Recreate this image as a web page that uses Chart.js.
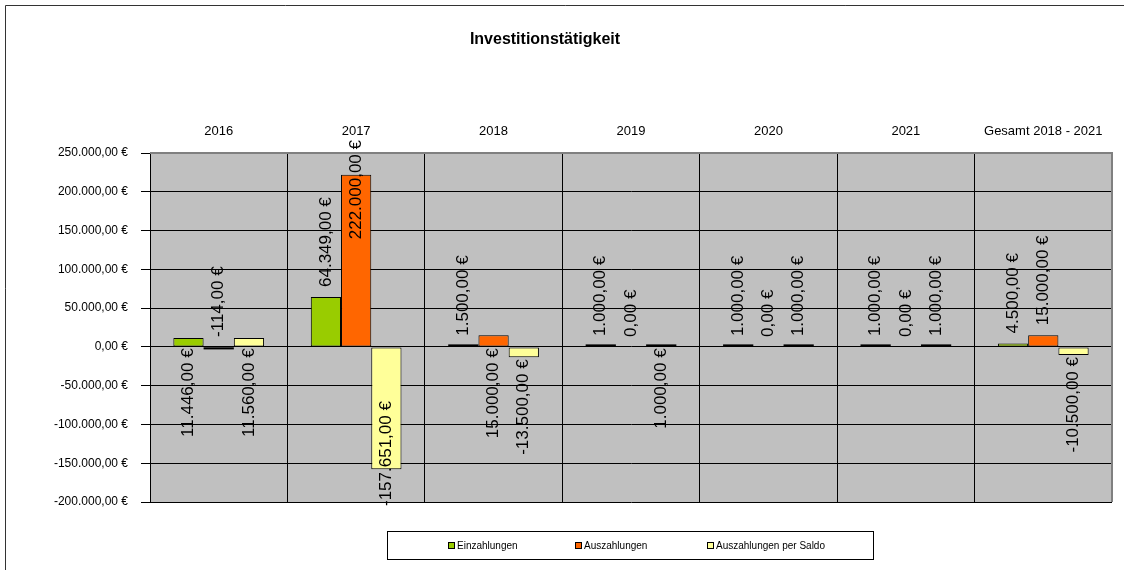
<!DOCTYPE html>
<html>
<head>
<meta charset="utf-8">
<script src="https://cdn.jsdelivr.net/npm/chart.js@4/dist/chart.umd.min.js"></script>
<style>
  body { margin: 0; background: #fff; }
  #wrap { width: 1124px; height: 570px; }
</style>
</head>
<body>
<div id="wrap"><canvas id="invest" width="1124" height="570"></canvas></div>
<script>
var categories = ['2016', '2017', '2018', '2019', '2020', '2021', 'Gesamt 2018 - 2021'];
var einzahlungen = [11446, 64349, 1500, 1000, 1000, 1000, 4500];
var auszahlungen = [-114, 222000, 15000, 0, 0, 0, 15000];
var saldo = [11560, -157651, -13500, 1000, 1000, 1000, -10500];
var seriesNames = ['Einzahlungen', 'Auszahlungen', 'Auszahlungen per Saldo'];
var yMin = -200000, yMax = 250000, yStep = 50000;

// labels that Excel put on the other side of the zero line: [dataset, index]
var flippedLabels = [[0, 0], [1, 0], [2, 0], [1, 2], [2, 3]];

var FONT = '"Liberation Sans", Arial, sans-serif';
Chart.defaults.font.family = FONT;
Chart.defaults.color = '#000';

function euro(v) {
    var parts = Math.abs(v).toFixed(2).split('.');
    var whole = parts[0].replace(/\B(?=(\d{3})+(?!\d))/g, '.');
    return (v < 0 ? '-' : '') + whole + ',' + parts[1] + ' €';
}

function isFlipped(di, i) {
    return flippedLabels.some(function (p) { return p[0] === di && p[1] === i; });
}

var excelLook = {
    id: 'excelLook',
    beforeDraw: function (chart) {
        var a = chart.chartArea, ctx = chart.ctx;
        ctx.save();
        ctx.fillStyle = '#C0C0C0';
        ctx.fillRect(a.left, a.top, a.right - a.left, a.bottom - a.top);
        ctx.restore();
    },
    beforeDatasetsDraw: function (chart) {
        var a = chart.chartArea, ctx = chart.ctx;
        ctx.save();
        ctx.strokeStyle = '#808080';
        ctx.lineWidth = 2;
        ctx.beginPath();
        ctx.moveTo(a.left, a.top);
        ctx.lineTo(a.right, a.top);
        ctx.lineTo(a.right, a.bottom);
        ctx.stroke();
        ctx.restore();
    },
    afterDatasetsDraw: function (chart) {
        var ctx = chart.ctx;
        ctx.save();
        // very small non-zero bars show up as a dark outline in Excel
        chart.data.datasets.forEach(function (ds, di) {
            chart.getDatasetMeta(di).data.forEach(function (bar, i) {
                var v = ds.data[i];
                if (v !== 0 && Math.abs(bar.y - bar.base) < 2) {
                    ctx.fillStyle = '#000';
                    var y0 = v > 0 ? bar.base - 2 : bar.base;
                    ctx.fillRect(bar.x - bar.width / 2, y0, bar.width, 2);
                }
            });
        });

        ctx.font = '17px ' + FONT;
        ctx.fillStyle = '#000';
        ctx.textBaseline = 'middle';
        chart.data.datasets.forEach(function (ds, di) {
            chart.getDatasetMeta(di).data.forEach(function (bar, i) {
                var v = ds.data[i];
                var up = v >= 0;
                if (isFlipped(di, i)) up = !up;
                var text = euro(v);
                var w = ctx.measureText(text).width;
                var top = Math.min(bar.y, bar.base), bottom = Math.max(bar.y, bar.base);
                var anchor;
                if (up) {
                    anchor = top - 10;
                    if (anchor - w < 140) anchor = 140 + w;
                } else {
                    anchor = bottom + 2;
                    if (anchor + w > 506) anchor = 506 - w;
                }
                ctx.save();
                ctx.translate(bar.x, anchor);
                ctx.rotate(-Math.PI / 2);
                ctx.textAlign = up ? 'left' : 'right';
                ctx.fillText(text, 0, 0);
                ctx.restore();
            });
        });
        ctx.restore();
    },
    afterDraw: function (chart) {
        var ctx = chart.ctx;
        ctx.save();
        // outer frame
        ctx.strokeStyle = '#333';
        ctx.lineWidth = 1;
        ctx.beginPath();
        ctx.moveTo(5.5, 600);
        ctx.lineTo(5.5, 5.5);
        ctx.lineTo(1130, 5.5);
        ctx.stroke();

        // title
        ctx.fillStyle = '#000';
        ctx.font = 'bold 16px ' + FONT;
        ctx.textAlign = 'center';
        ctx.textBaseline = 'middle';
        ctx.fillText('Investitionstätigkeit', 545, 40);

        // legend box
        ctx.strokeStyle = '#000';
        ctx.strokeRect(387.5, 531.5, 486, 28);
        ctx.font = '10px ' + FONT;
        ctx.textAlign = 'left';
        var starts = [448, 575, 707];
        chart.data.datasets.forEach(function (ds, di) {
            var x = starts[di];
            ctx.fillStyle = ds.backgroundColor;
            ctx.fillRect(x, 542, 7, 7);
            ctx.strokeRect(x + 0.5, 542.5, 6, 6);
            ctx.fillStyle = '#000';
            ctx.fillText(ds.label, x + 9, 546);
        });
        ctx.restore();
    }
};

new Chart(document.getElementById('invest'), {
    type: 'bar',
    data: {
        labels: categories,
        datasets: [
            { label: seriesNames[0], data: einzahlungen, backgroundColor: '#99CC00' },
            { label: seriesNames[1], data: auszahlungen, backgroundColor: '#FF6600' },
            { label: seriesNames[2], data: saldo, backgroundColor: '#FFFF99' },
        ]
    },
    options: {
        responsive: false,
        animation: false,
        layout: { padding: { top: 0, left: 0, right: 12, bottom: 68 } },
        datasets: {
            bar: {
                borderColor: '#000',
                borderWidth: 1,
                borderSkipped: false,
                categoryPercentage: 0.66,
                barPercentage: 1,
            }
        },
        plugins: {
            legend: { display: false },
            title: { display: false },
            tooltip: { enabled: false },
        },
        scales: {
            x: {
                position: 'top',
                afterFit: function (scale) { scale.height = 153; },
                grid: { color: '#000', drawTicks: false },
                border: { color: '#808080' },
                ticks: {
                    autoSkip: false,
                    maxRotation: 0,
                    padding: 14,
                    font: { size: 13 },
                },
            },
            y: {
                min: yMin,
                max: yMax,
                afterFit: function (scale) { scale.width = 150; },
                grid: { color: '#000', tickLength: 9 },
                border: { color: '#000' },
                ticks: {
                    stepSize: yStep,
                    padding: 13,
                    font: { size: 12 },
                    callback: function (value) { return euro(value); },
                },
            },
        },
    },
    plugins: [excelLook],
});
</script>
</body>
</html>
